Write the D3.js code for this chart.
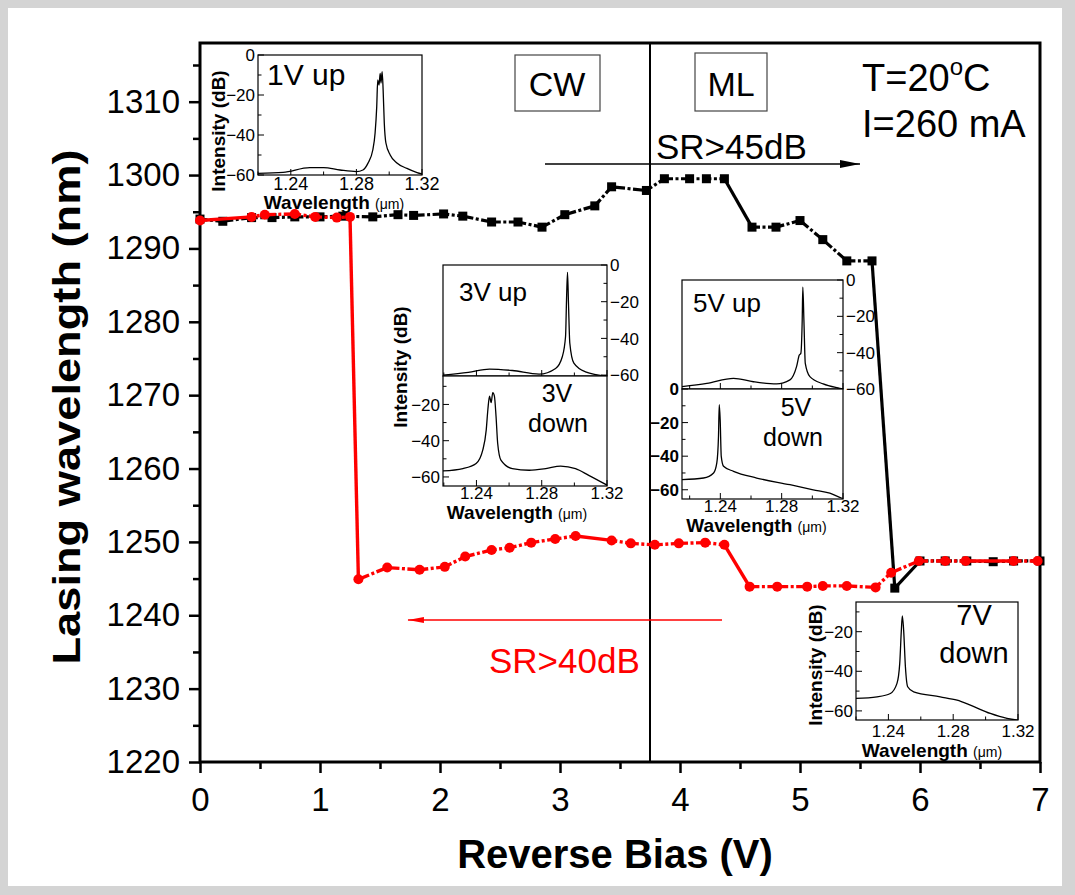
<!DOCTYPE html>
<html><head><meta charset="utf-8">
<script src="https://cdn.jsdelivr.net/npm/d3@7"></script>
<style>
html,body{margin:0;padding:0;background:#d4d4d4;}
svg{display:block;font-family:"Liberation Sans",Arial,sans-serif;}
</style></head>
<body>
<svg id="c" width="1075" height="895"></svg>
<script>
// ---------- DATA ----------
const blackX = [0,0.19,0.43,0.6,0.79,1.0,1.19,1.44,1.65,1.78,2.03,2.19,2.43,2.65,2.85,3.04,3.29,3.43,3.72,3.87,4.08,4.22,4.37,4.6,4.8,5.0,5.19,5.39,5.6,5.79,6.0,6.21,6.39,6.61,6.78,7.0];
const blackY = [1294.0,1293.7,1294.2,1294.2,1294.3,1294.3,1294.4,1294.3,1294.6,1294.5,1294.7,1294.4,1293.6,1293.6,1292.9,1294.6,1295.8,1298.4,1297.9,1299.5,1299.5,1299.5,1299.5,1292.9,1292.9,1293.8,1291.2,1288.3,1288.3,1243.7,1247.4,1247.4,1247.4,1247.3,1247.4,1247.4];
const redX = [0,0.43,0.54,0.79,0.96,1.14,1.25,1.32,1.56,1.83,2.04,2.21,2.43,2.58,2.76,2.96,3.13,3.43,3.59,3.79,3.99,4.21,4.37,4.58,4.81,5.06,5.19,5.39,5.63,5.76,5.99,6.21,6.38,6.78,6.98];
const redY = [1293.8,1294.3,1294.6,1294.7,1294.3,1294.2,1294.3,1244.9,1246.5,1246.2,1246.6,1248.0,1248.9,1249.2,1249.9,1250.4,1250.8,1250.2,1249.8,1249.6,1249.8,1249.9,1249.6,1243.9,1243.9,1243.9,1244.0,1244.0,1243.8,1245.8,1247.4,1247.4,1247.4,1247.4,1247.4];
const xTicks = [0,1,2,3,4,5,6,7];
const yTicks = [1220,1230,1240,1250,1260,1270,1280,1290,1300,1310];
const regimeBoundary = 3.75;

// inset spectra [wavelength (um), intensity (dB)]
const spec1Vup = [[1.22,-59.2],[1.2353,-58.7],[1.2516,-56.3],[1.26,-56.3],[1.27,-57.5],[1.28,-58.3],[1.284,-57.5],[1.287,-54.2],[1.29,-47.5],[1.2914,-39],[1.2924,-25.8],[1.293,-12.5],[1.2938,-15],[1.2945,-9.2],[1.295,-14],[1.2957,-8.3],[1.2963,-17.5],[1.297,-34],[1.298,-44],[1.3006,-50],[1.3047,-54],[1.3108,-56.7],[1.317,-58.8],[1.32,-59.5]];
const spec3Vup = [[1.2195,-60],[1.235,-58.5],[1.248,-56.7],[1.262,-57.5],[1.2784,-59.5],[1.2885,-56.4],[1.2926,-50],[1.2946,-39],[1.2952,-19],[1.2958,-4],[1.2964,-21],[1.2972,-42.5],[1.2997,-53.5],[1.3068,-58.2],[1.32,-60.5]];
const spec3Vdown = [[1.2195,-56.7],[1.2317,-55.4],[1.2398,-52.6],[1.2439,-45.1],[1.246,-34],[1.247,-22.8],[1.248,-15.4],[1.249,-19],[1.25,-13.5],[1.251,-15.4],[1.252,-26.5],[1.253,-41.4],[1.255,-50.7],[1.262,-55.4],[1.2723,-56.3],[1.2825,-55.4],[1.2916,-54],[1.3007,-55.4],[1.3088,-59.1],[1.32,-64.5]];
const spec5Vup = [[1.215,-58.7],[1.2312,-56.9],[1.2486,-54.1],[1.2616,-56],[1.2767,-57.2],[1.2854,-55],[1.2897,-47.7],[1.2915,-41.3],[1.2925,-40.4],[1.2934,-22],[1.2938,-4],[1.2945,-22],[1.2954,-45.9],[1.2984,-53.2],[1.3071,-57.2],[1.3179,-59.6],[1.32,-60]];
const spec5Vdown = [[1.215,-54],[1.2291,-53],[1.2356,-50],[1.2377,-44],[1.2388,-28.2],[1.2393,-9.3],[1.2399,-18.3],[1.2406,-40.1],[1.2421,-46],[1.2486,-49],[1.2637,-53],[1.2854,-57],[1.3006,-60],[1.3114,-62],[1.319,-64.9],[1.32,-65.2]];
const spec7Vdown = [[1.22,-53.7],[1.233,-52.9],[1.2412,-51.2],[1.2453,-46.1],[1.247,-36],[1.248,-19.1],[1.2486,-12],[1.2494,-19.1],[1.2505,-37.7],[1.2519,-47.8],[1.2556,-50.4],[1.272,-52.9],[1.2824,-54.6],[1.2906,-57.1],[1.3029,-61.3],[1.3132,-63.8],[1.32,-64.7]];
const insetXTicks = [1.24,1.28,1.32];
const insetXMinor = [1.22,1.26,1.30];
const insetYTicks = [0,-20,-40,-60];
const insetYMinor = [-10,-30,-50];

// ---------- DRAW ----------
const svg = d3.select("#c");
svg.append("rect").attr("x",8).attr("y",8).attr("width",1054).attr("height",878).attr("fill","#fff");

const x = d3.scaleLinear().domain([0,7]).range([200,1040]);
const y = d3.scaleLinear().domain([1220,1318]).range([762,43]);

const FONT = "'Liberation Sans',Arial,sans-serif";

// axes
const gx = svg.append("g").attr("transform","translate(0,762)")
  .call(d3.axisBottom(x).tickValues(xTicks).tickSize(11).tickPadding(8).tickFormat(d3.format("d")));
const gxm = svg.append("g").attr("transform","translate(0,762)")
  .call(d3.axisBottom(x).tickValues(d3.range(0.5,7,1)).tickSize(7).tickFormat(""));
const gy = svg.append("g").attr("transform","translate(200,0)")
  .call(d3.axisLeft(y).tickValues(yTicks).tickSize(11).tickPadding(9).tickFormat(d3.format("d")));
const gym = svg.append("g").attr("transform","translate(200,0)")
  .call(d3.axisLeft(y).tickValues(d3.range(1225,1318,10)).tickSize(7).tickFormat(""));
[gx,gxm,gy,gym].forEach(g=>{
  g.select(".domain").remove();
  g.selectAll(".tick line").attr("stroke","#000").attr("stroke-width",2.5);
  g.selectAll(".tick text").attr("font-size",33).attr("font-family",FONT).attr("fill","#000");
});
gx.selectAll(".tick text").attr("dy","0.9em");
// frame
svg.append("rect").attr("x",x(0)).attr("y",y(1318)).attr("width",x(7)-x(0)).attr("height",y(1220)-y(1318))
  .attr("fill","none").attr("stroke","#000").attr("stroke-width",3);
// regime boundary
svg.append("line").attr("x1",x(regimeBoundary)).attr("x2",x(regimeBoundary)).attr("y1",y(1318)).attr("y2",y(1220))
  .attr("stroke","#000").attr("stroke-width",2);

// axis titles
svg.append("text").attr("transform","translate(80,407) rotate(-90)").attr("text-anchor","middle")
  .attr("font-size",39).attr("font-weight","bold").attr("font-family",FONT)
  .attr("textLength",515).attr("lengthAdjust","spacingAndGlyphs").text("Lasing wavelength (nm)");
svg.append("text").attr("x",615).attr("y",868).attr("text-anchor","middle")
  .attr("font-size",40).attr("font-weight","bold").attr("font-family",FONT).text("Reverse Bias (V)");

// ---------- insets ----------
function panel(box, xDom, yDom, data, o){
  const g = svg.append("g");
  const sx = d3.scaleLinear().domain(xDom).range([box[0],box[1]]);
  const sy = d3.scaleLinear().domain(yDom).range([box[3],box[2]]);
  g.append("rect").attr("x",box[0]).attr("y",box[2]).attr("width",box[1]-box[0]).attr("height",box[3]-box[2])
    .attr("fill","#fff").attr("stroke","none");
  const id = "clip"+Math.round(box[0])+"_"+Math.round(box[2]);
  svg.append("clipPath").attr("id",id).append("rect").attr("x",box[0]).attr("y",box[2]).attr("width",box[1]-box[0]).attr("height",box[3]-box[2]);
  g.append("path").datum(data).attr("clip-path","url(#"+id+")")
    .attr("d",d3.line().x(d=>sx(d[0])).y(d=>sy(d[1])).curve(d3.curveMonotoneX))
    .attr("fill","none").attr("stroke","#000").attr("stroke-width",1.3);
  const xt = insetXTicks.filter(v=>v>=xDom[0]-1e-6&&v<=xDom[1]+1e-6);
  const xm = insetXMinor.filter(v=>v>=xDom[0]-1e-6&&v<=xDom[1]+1e-6);
  xt.forEach(v=>g.append("line").attr("x1",sx(v)).attr("x2",sx(v)).attr("y1",box[3]).attr("y2",box[3]-6).attr("stroke","#000").attr("stroke-width",1));
  xm.forEach(v=>g.append("line").attr("x1",sx(v)).attr("x2",sx(v)).attr("y1",box[3]).attr("y2",box[3]-3.5).attr("stroke","#000").attr("stroke-width",1));
  const side = o.side;
  const ax = side==="left"?box[0]:box[1];
  const dir = side==="left"?1:-1;
  const yt = insetYTicks.filter(v=>v>=yDom[0]-0.6&&v<=yDom[1]+0.6);
  const ym = insetYMinor.filter(v=>v>=yDom[0]&&v<=yDom[1]);
  yt.forEach(v=>g.append("line").attr("x1",ax).attr("x2",ax+dir*6).attr("y1",sy(v)).attr("y2",sy(v)).attr("stroke","#000").attr("stroke-width",1));
  ym.forEach(v=>g.append("line").attr("x1",ax).attr("x2",ax+dir*3.5).attr("y1",sy(v)).attr("y2",sy(v)).attr("stroke","#000").attr("stroke-width",1));
  yt.forEach(v=>g.append("text").attr("x",ax-dir*3).attr("y",Math.max(Math.min(sy(v),box[3]),box[2])).attr("dy","0.36em")
    .attr("text-anchor",side==="left"?"end":"start").attr("font-size",17).attr("font-family",FONT)
    .attr("font-weight",o.boldY?"bold":"normal").text(d3.format("d")(v)));
  if(o.xLabels){
    xt.forEach(v=>g.append("text").attr("x",sx(v)).attr("y",box[3]+o.xLabOff).attr("text-anchor","middle")
      .attr("font-size",o.xLabSize||17).attr("font-family",FONT).text(d3.format(".2f")(v)));
    const t = g.append("text").attr("x",(box[0]+box[1])/2+o.titleDx).attr("y",box[3]+o.titleOff).attr("text-anchor","middle")
      .attr("font-size",19).attr("font-weight","bold").attr("font-family",FONT);
    t.append("tspan").text("Wavelength ");
    t.append("tspan").attr("font-size",14).attr("font-weight","normal").text("(\u03bcm)");
  }
  g.append("rect").attr("x",box[0]).attr("y",box[2]).attr("width",box[1]-box[0]).attr("height",box[3]-box[2])
    .attr("fill","none").attr("stroke","#000").attr("stroke-width",1.2);
  return g;
}
function ylab(xp,yp){
  svg.append("text").attr("transform",`translate(${xp},${yp}) rotate(-90)`).attr("text-anchor","middle")
    .attr("font-size",19).attr("font-weight","bold").attr("font-family",FONT).text("Intensity (dB)");
}
function label(xp,yp,txt,fs,anchor){
  svg.append("text").attr("x",xp).attr("y",yp).attr("text-anchor",anchor||"start")
    .attr("font-size",fs).attr("font-family",FONT).text(txt);
}

// 1V up
panel([258,422,55,175],[1.22,1.32],[-60,0],spec1Vup,{side:"left",xLabels:true,xLabOff:15,xLabSize:18,titleOff:34,titleDx:-6});
ylab(225,131); label(267,85,"1V up",30);
// 3V
panel([443,607,265,376],[1.2195,1.32],[-60.5,0],spec3Vup,{side:"right",xLabels:false});
panel([443,607,376,486],[1.2195,1.32],[-65,-4.3],spec3Vdown,{side:"left",xLabels:true,xLabOff:13,titleOff:33,titleDx:-8});
ylab(407,367); label(459,301,"3V up",26);
label(557,402,"3V",25,"middle"); label(558,432,"down",25,"middle");
// 5V
panel([682,843,280,389],[1.215,1.32],[-60,0],spec5Vup,{side:"right",xLabels:false});
panel([682,843,389,499],[1.215,1.32],[-65.5,0],spec5Vdown,{side:"left",xLabels:true,xLabOff:13,titleOff:33,titleDx:-6,boldY:true});
label(693,312,"5V up",26);
label(796,416,"5V",25,"middle"); label(793,446,"down",25,"middle");
// 7V
panel([856,1018,602,720],[1.22,1.32],[-64.6,-5],spec7Vdown,{side:"left",xLabels:true,xLabOff:17,titleOff:37,titleDx:-5});
ylab(822,665);
label(974,625,"7V",29,"middle"); label(974,663,"down",29,"middle");

// ---------- data series ----------
const blk = blackX.map((v,i)=>[v,blackY[i]]);
const red = redX.map((v,i)=>[v,redY[i]]);
function segs(pts, color, w){
  const g = svg.append("g");
  const s = d3.pairs(pts);
  g.selectAll("line").data(s).join("line")
    .attr("x1",d=>x(d[0][0])).attr("y1",d=>y(d[0][1])).attr("x2",d=>x(d[1][0])).attr("y2",d=>y(d[1][1]))
    .attr("stroke",color).attr("stroke-width",w)
    .attr("stroke-dasharray",d=>{
      const L = Math.hypot(x(d[1][0])-x(d[0][0]), y(d[1][1])-y(d[0][1]));
      if(L>36) return null;
      const a = Math.max((L-8)/2,1);
      return `${a} 2.5 3 2.5 ${L}`;
    });
}
segs(blk,"#000",3.2);
svg.append("g").selectAll("rect").data(blk).join("rect")
  .attr("x",d=>x(d[0])-4.5).attr("y",d=>y(d[1])-4.5).attr("width",9).attr("height",9).attr("fill","#000");
segs(red,"#f00",3.4);
svg.append("g").selectAll("circle").data(red).join("circle")
  .attr("cx",d=>x(d[0])).attr("cy",d=>y(d[1])).attr("r",5).attr("fill","#f00");

// ---------- annotations ----------
const defs = svg.append("defs");
defs.append("marker").attr("id","ahB").attr("viewBox","0 0 20 10").attr("refX",20).attr("refY",5)
  .attr("markerWidth",20).attr("markerHeight",10).attr("markerUnits","userSpaceOnUse").attr("orient","auto")
  .append("path").attr("d","M0,1 L20,5 L0,9 Z").attr("fill","#000");
defs.append("marker").attr("id","ahR").attr("viewBox","0 0 16 8").attr("refX",16).attr("refY",4)
  .attr("markerWidth",16).attr("markerHeight",8).attr("markerUnits","userSpaceOnUse").attr("orient","auto")
  .append("path").attr("d","M0,1 L16,4 L0,7 Z").attr("fill","#f00");
svg.append("line").attr("x1",x(2.875)).attr("x2",x(5.5)).attr("y1",y(1301.5)).attr("y2",y(1301.5))
  .attr("stroke","#000").attr("stroke-width",1.5).attr("marker-end","url(#ahB)");
svg.append("line").attr("x1",x(4.35)).attr("x2",x(1.733)).attr("y1",y(1239.35)).attr("y2",y(1239.35))
  .attr("stroke","#f00").attr("stroke-width",1.5).attr("marker-end","url(#ahR)");

svg.append("text").attr("x",656).attr("y",159).attr("font-size",35).attr("font-family",FONT).text("SR>45dB");
svg.append("text").attr("x",489).attr("y",673).attr("font-size",35).attr("font-family",FONT).attr("fill","#f00").text("SR>40dB");

svg.append("rect").attr("x",515).attr("y",55).attr("width",85).attr("height",56).attr("fill","none").attr("stroke","#444").attr("stroke-width",1.2);
svg.append("rect").attr("x",695).attr("y",53).attr("width",72).attr("height",58).attr("fill","none").attr("stroke","#444").attr("stroke-width",1.2);
svg.append("text").attr("x",557).attr("y",96).attr("text-anchor","middle").attr("font-size",34).attr("font-family",FONT).text("CW");
svg.append("text").attr("x",731).attr("y",96).attr("text-anchor","middle").attr("font-size",34).attr("font-family",FONT).text("ML");
const tT = svg.append("text").attr("x",862).attr("y",91).attr("font-size",38).attr("font-family",FONT);
tT.append("tspan").text("T=20");
tT.append("tspan").attr("font-size",24).attr("dy",-16).text("o");
tT.append("tspan").attr("dy",16).text("C");
svg.append("text").attr("x",862).attr("y",137).attr("font-size",38).attr("font-family",FONT).text("I=260 mA");
</script>
</body></html>
